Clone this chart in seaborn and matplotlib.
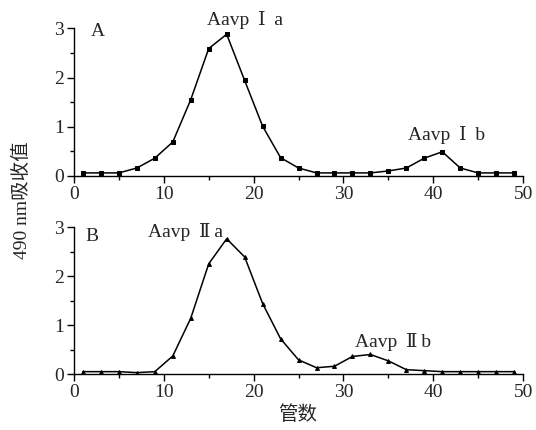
import numpy as np
import pandas as pd
import matplotlib.pyplot as plt
import seaborn as sns
from matplotlib.ticker import MultipleLocator

sns.set_style("ticks")
plt.rcParams['font.family'] = ['Liberation Serif', 'DejaVu Serif', 'Noto Sans CJK SC']
plt.rcParams['axes.unicode_minus'] = False

# tube numbers
tubes = [1, 3, 5, 7, 9, 11, 13, 15, 17, 19, 21, 23, 25,
         27, 29, 31, 33, 35, 37, 39, 41, 43, 45, 47, 49]

# A: Aavp I
abs_a = [0.06, 0.06, 0.06, 0.16, 0.36, 0.69, 1.55, 2.59, 2.88, 1.94, 1.01, 0.37, 0.16,
         0.06, 0.06, 0.06, 0.06, 0.10, 0.16, 0.36, 0.49, 0.16, 0.06, 0.06, 0.06]

# B: Aavp II
abs_b = [0.05, 0.05, 0.05, 0.03, 0.05, 0.37, 1.14, 2.25, 2.76, 2.39, 1.44, 0.72, 0.29,
         0.13, 0.16, 0.36, 0.40, 0.27, 0.09, 0.07, 0.05, 0.05, 0.05, 0.05, 0.05]

df_a = pd.DataFrame({'tube': tubes, 'abs': abs_a})
df_b = pd.DataFrame({'tube': tubes, 'abs': abs_b})

fig = plt.figure(figsize=(5.36, 4.30), dpi=100)
ax1 = fig.add_axes([0.138, 0.591, 0.838, 0.343])
ax2 = fig.add_axes([0.138, 0.130, 0.838, 0.342])

sns.lineplot(data=df_a, x='tube', y='abs', ax=ax1, color='black', lw=1.1,
             marker='s', markersize=2.2, markeredgecolor='black')
sns.lineplot(data=df_b, x='tube', y='abs', ax=ax2, color='black', lw=1.1,
             marker='^', markersize=2.8, markeredgecolor='black')

for ax in (ax1, ax2):
    ax.set_xlim(0, 50)
    ax.set_ylim(0, 3)
    ax.xaxis.set_major_locator(MultipleLocator(10))
    ax.xaxis.set_minor_locator(MultipleLocator(5))
    ax.yaxis.set_major_locator(MultipleLocator(1))
    ax.yaxis.set_minor_locator(MultipleLocator(0.5))
    ax.tick_params(axis='both', which='major', direction='out', length=5, width=1,
                   labelsize=14, color='black', pad=2)
    ax.tick_params(axis='both', which='minor', direction='out', length=3, width=1,
                   color='black')
    for s in ('top', 'right'):
        ax.spines[s].set_visible(False)
    for s in ('left', 'bottom'):
        ax.spines[s].set_color('black')
        ax.spines[s].set_linewidth(1)
    ax.set_xlabel('')
    ax.set_ylabel('')
    ax.patch.set_alpha(0)

ax1.text(2.7, 2.93, 'A', fontsize=14, ha='center', va='center')
ax1.text(19.0, 3.18, 'Aavp\u2009 Ⅰ\u2009 a', fontsize=14, ha='center', va='center', clip_on=False)
ax1.text(41.5, 0.84, 'Aavp\u2009 Ⅰ\u2009 b', fontsize=14, ha='center', va='center')

ax2.text(2.0, 2.80, 'B', fontsize=14, ha='center', va='center')
ax2.text(12.4, 2.90, 'Aavp\u2009 Ⅱ\u2009a', fontsize=14, ha='center', va='center')
ax2.text(35.5, 0.65, 'Aavp\u2009 Ⅱ\u2009b', fontsize=14, ha='center', va='center')

fig.text(0.041, 0.535, '490 nm吸收值', rotation=90, fontsize=14, ha='center', va='center')
fig.text(0.556, 0.035, '管数', fontsize=14, ha='center', va='center')

fig.savefig('out.png', dpi=100)
